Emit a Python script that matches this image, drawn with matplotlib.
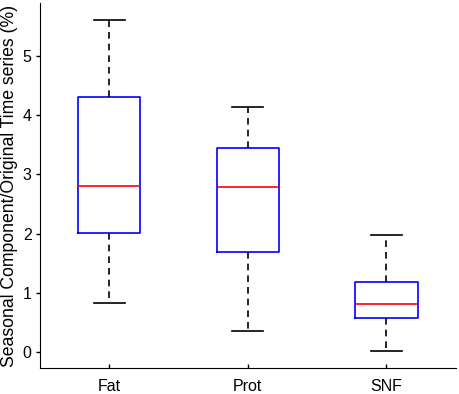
import matplotlib
matplotlib.use("Agg")
import matplotlib.pyplot as plt

plt.rcParams['font.family'] = ['Liberation Sans', 'DejaVu Sans']

labels = ["Fat", "Prot", "SNF"]
whislo = [0.83, 0.36, 0.02]
q1 = [2.01, 1.69, 0.57]
med = [2.81, 2.79, 0.81]
q3 = [4.31, 3.45, 1.18]
whishi = [5.60, 4.14, 1.98]

stats = []
for i in range(len(labels)):
    stats.append({'label': labels[i], 'whislo': whislo[i], 'q1': q1[i],
                  'med': med[i], 'q3': q3[i], 'whishi': whishi[i], 'fliers': []})

fig = plt.figure(figsize=(4.59, 3.94), dpi=100)
ax = fig.add_axes([0.087, 0.066, 0.906, 0.926])

ax.bxp(stats, positions=[1, 2, 3], widths=0.45, showfliers=False,
       boxprops=dict(color='blue', linewidth=1.2),
       medianprops=dict(color='red', linewidth=1.2),
       whiskerprops=dict(color='black', linestyle=(0, (4, 3)), linewidth=1.2),
       capprops=dict(color='black', linewidth=1.2),
       capwidths=0.225)

ax.set_xlim(0.5, 3.5)
ax.set_ylim(-0.27, 5.89)
ax.set_yticks([0, 1, 2, 3, 4, 5])
ax.set_xticks([1, 2, 3])
ax.set_xticklabels(labels)
ax.tick_params(axis='y', direction='out', labelsize=11.5, length=3, width=1, pad=3)
ax.tick_params(axis='x', direction='in', labelsize=11.5, length=3, width=1, pad=8)
ax.spines['top'].set_visible(False)
ax.spines['right'].set_visible(False)
ax.set_ylabel('Seasonal Component/Original Time series (%)', fontsize=12.7, labelpad=3)

plt.savefig('out.png', dpi=100)
